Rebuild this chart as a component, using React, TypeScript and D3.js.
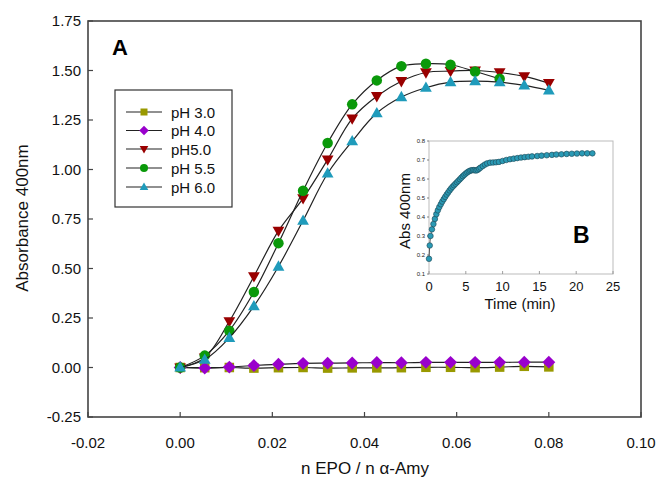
import React from "react";
import * as d3 from "d3";

const ratios = [0, 0.00533, 0.01067, 0.016, 0.02133, 0.02667, 0.032, 0.03733, 0.04267, 0.048, 0.05333, 0.05867, 0.064, 0.06933, 0.07467, 0.08];
const ph30 = [0, -0.001, 0, -0.003, -0.001, 0, -0.003, -0.002, -0.002, -0.001, 0.001, 0.001, -0.001, 0.002, 0.006, 0.003];
const ph40 = [0, -0.003, 0.002, 0.01, 0.016, 0.021, 0.022, 0.023, 0.025, 0.024, 0.026, 0.026, 0.026, 0.026, 0.027, 0.027];
const ph50 = [0, 0.05, 0.233, 0.46, 0.69, 0.854, 1.05, 1.257, 1.37, 1.446, 1.49, 1.497, 1.5, 1.49, 1.47, 1.436];
const ph55 = [0, 0.06, 0.186, 0.381, 0.628, 0.893, 1.134, 1.329, 1.45, 1.522, 1.534, 1.529, 1.495, 1.458];
const ph60 = [0, 0.04, 0.15, 0.31, 0.51, 0.742, 0.98, 1.143, 1.285, 1.366, 1.413, 1.441, 1.446, 1.441, 1.425, 1.4];

const seriesNames = ["pH 3.0", "pH 4.0", "pH5.0", "pH 5.5", "pH 6.0"];
const seriesColors = ["#999900", "#9900cc", "#990000", "#0a990a", "#1f9bbb"];
const seriesShapes = ["square", "diamond", "triangleDown", "circle", "triangleUp"];
const seriesValues = [ph30, ph40, ph50, ph55, ph60];

const xTicks = [-0.02, 0, 0.02, 0.04, 0.06, 0.08, 0.1];
const yTicks = [-0.25, 0, 0.25, 0.5, 0.75, 1.0, 1.25, 1.5, 1.75];

const insetTime = [0, 0.1, 0.2, 0.4, 0.6, 0.8, 1.0, 1.2, 1.4, 1.6, 1.8, 2.0, 2.2, 2.4, 2.6, 2.8, 3.0, 3.2, 3.4, 3.6, 3.8, 4.0, 4.2, 4.4, 4.6, 4.8, 5.0, 5.2, 5.4, 5.6, 5.8, 6.0, 6.2, 6.4, 6.6, 6.8, 7.0, 7.3, 7.6, 7.9, 8.3, 8.7, 9.1, 9.5, 10.0, 10.5, 11.0, 11.5, 12.0, 12.5, 13.0, 13.5, 14.0, 14.7, 15.3, 16.0, 16.7, 17.3, 18.0, 18.7, 19.4, 20.1, 20.8, 21.5, 22.2];
const insetAbs = [0.18, 0.25, 0.3, 0.335, 0.363, 0.39, 0.415, 0.435, 0.452, 0.467, 0.481, 0.494, 0.506, 0.518, 0.529, 0.54, 0.55, 0.559, 0.567, 0.575, 0.583, 0.591, 0.599, 0.607, 0.615, 0.622, 0.629, 0.635, 0.64, 0.644, 0.646, 0.647, 0.646, 0.645, 0.648, 0.654, 0.66, 0.668, 0.676, 0.682, 0.686, 0.687, 0.688, 0.69, 0.695, 0.7, 0.704, 0.707, 0.71, 0.713, 0.715, 0.717, 0.719, 0.721, 0.723, 0.725, 0.727, 0.729, 0.73, 0.732, 0.733, 0.734, 0.735, 0.735, 0.735];
const insetXTicks = [0, 5, 10, 15, 20, 25];
const insetYTicks = [0.1, 0.2, 0.3, 0.4, 0.5, 0.6, 0.7, 0.8];

const FONT = "Arial, 'Liberation Sans', sans-serif";

function Marker({ shape, cx, cy, s, color }: { shape: string; cx: number; cy: number; s: number; color: string }) {
  if (shape === "square") return <rect x={cx - s / 2} y={cy - s / 2} width={s} height={s} fill={color} />;
  if (shape === "circle") return <circle cx={cx} cy={cy} r={s / 2 + 0.5} fill={color} />;
  if (shape === "diamond") {
    const h = s * 0.68;
    return <path d={`M${cx},${cy - h}L${cx + h},${cy}L${cx},${cy + h}L${cx - h},${cy}Z`} fill={color} />;
  }
  const w = s * 0.62;
  if (shape === "triangleUp") {
    return <path d={`M${cx},${cy - w * 1.05}L${cx + w},${cy + w * 0.7}L${cx - w},${cy + w * 0.7}Z`} fill={color} />;
  }
  return <path d={`M${cx},${cy + w * 1.05}L${cx + w},${cy - w * 0.7}L${cx - w},${cy - w * 0.7}Z`} fill={color} />;
}

export default function App() {
  const x = d3.scaleLinear().domain([-0.02, 0.1]).range([88, 641]);
  const y = d3.scaleLinear().domain([-0.25, 1.75]).range([417, 21]);
  const fmt = (v: number) => d3.format(".2f")(v).replace("\u2212", "-");

  const line = d3
    .line<[number, number]>()
    .x((d) => x(d[0]))
    .y((d) => y(d[1]))
    .curve(d3.curveCatmullRom.alpha(0.5));

  const ix = d3.scaleLinear().domain([0, 25]).range([429, 613]);
  const iy = d3.scaleLinear().domain([0.1, 0.8]).range([274, 141]);
  const iline = d3
    .line<number>()
    .x((_, i) => ix(insetTime[i]))
    .y((d) => iy(d));

  const legendRows = [112, 130.5, 149, 168, 187];

  return (
    <svg width={659} height={477} style={{ position: "absolute", left: 0, top: 0, background: "#fff" }} fontFamily={FONT}>
      <rect x={0} y={0} width={659} height={477} fill="#fff" />

      {seriesValues.map((vals, si) => {
        const pts: [number, number][] = vals.map((v, i) => [ratios[i], v]);
        return (
          <g key={si}>
            <path d={line(pts) || ""} fill="none" stroke="#222" strokeWidth={1.2} />
            {pts.map((p, i) => (
              <Marker key={i} shape={seriesShapes[si]} cx={x(p[0])} cy={y(p[1])} s={9.5} color={seriesColors[si]} />
            ))}
          </g>
        );
      })}

      <rect x={88} y={21} width={553} height={396} fill="none" stroke="#444" strokeWidth={1.6} />

      {yTicks.map((t) => (
        <g key={t}>
          <line x1={88} x2={93} y1={y(t)} y2={y(t)} stroke="#444" strokeWidth={1.2} />
          <text x={81} y={y(t) + 5} textAnchor="end" fontSize={15} fill="#111">
            {fmt(t)}
          </text>
        </g>
      ))}
      {xTicks.map((t) => (
        <g key={t}>
          <line x1={x(t)} x2={x(t)} y1={417} y2={412} stroke="#444" strokeWidth={1.2} />
          <text x={x(t)} y={448} textAnchor="middle" fontSize={15} fill="#111">
            {fmt(t)}
          </text>
        </g>
      ))}

      <text x={365} y={474} textAnchor="middle" fontSize={17} fill="#111">
        n EPO / n α-Amy
      </text>
      <text transform="translate(28,218) rotate(-90)" textAnchor="middle" fontSize={17} fill="#111">
        Absorbance 400nm
      </text>
      <text x={112} y={55} fontSize={22} fontWeight="bold" fill="#000">
        A
      </text>

      <rect x={115} y={90} width={117} height={117} fill="#fff" stroke="#333" strokeWidth={1.2} />
      {seriesNames.map((n, i) => (
        <g key={n}>
          <line x1={126} x2={162} y1={legendRows[i]} y2={legendRows[i]} stroke="#222" strokeWidth={1.1} />
          <Marker shape={seriesShapes[i]} cx={144} cy={legendRows[i]} s={7} color={seriesColors[i]} />
          <text x={171} y={legendRows[i] + 5.5} fontSize={15} fill="#111">
            {n}
          </text>
        </g>
      ))}

      <rect x={429} y={141} width={184} height={133} fill="#fff" stroke="#bbb" strokeWidth={1} />
      {insetYTicks.map((t) => (
        <g key={t}>
          <line x1={427} x2={429} y1={iy(t)} y2={iy(t)} stroke="#666" strokeWidth={0.8} />
          <text x={425} y={iy(t) + 2} textAnchor="end" fontSize={6} fill="#222">
            {t.toFixed(1)}
          </text>
        </g>
      ))}
      {insetXTicks.map((t) => (
        <g key={t}>
          <line x1={ix(t)} x2={ix(t)} y1={274} y2={271} stroke="#888" strokeWidth={0.8} />
          <text x={ix(t)} y={291} textAnchor="middle" fontSize={13} fill="#111">
            {t}
          </text>
        </g>
      ))}
      <path d={iline(insetAbs) || ""} fill="none" stroke="#333" strokeWidth={0.8} />
      {insetAbs.map((v, i) => (
        <circle key={i} cx={ix(insetTime[i])} cy={iy(v)} r={2.8} fill="#2a9ab5" stroke="#1d4452" strokeWidth={0.6} />
      ))}
      <text x={520} y={309} textAnchor="middle" fontSize={15} fill="#111">
        Time (min)
      </text>
      <text transform="translate(410,211) rotate(-90)" textAnchor="middle" fontSize={15} fill="#111">
        Abs 400nm
      </text>
      <text x={573} y={243} fontSize={23} fontWeight="bold" fill="#000">
        B
      </text>
    </svg>
  );
}
